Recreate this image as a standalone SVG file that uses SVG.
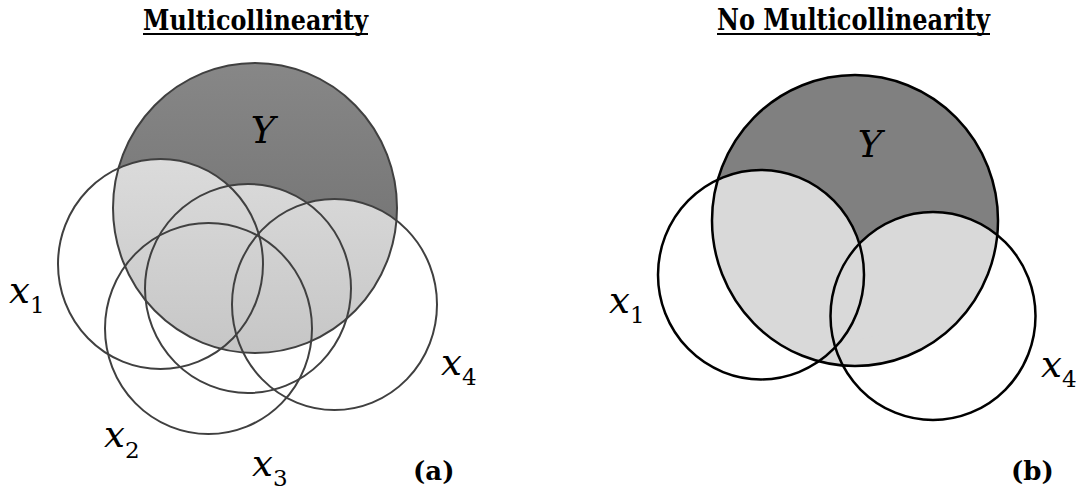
<svg xmlns="http://www.w3.org/2000/svg" width="1079" height="492" viewBox="0 0 1079 492">
<defs>
<linearGradient id="darkG" gradientUnits="userSpaceOnUse" x1="0" y1="63" x2="0" y2="353">
<stop offset="0" stop-color="#878787"/>
<stop offset="1" stop-color="#6a6a6a"/>
</linearGradient>
<linearGradient id="lightG" gradientUnits="userSpaceOnUse" x1="0" y1="150" x2="0" y2="353">
<stop offset="0" stop-color="#dcdcdc"/>
<stop offset="1" stop-color="#c6c6c6"/>
</linearGradient>
<clipPath id="clipYa"><ellipse cx="255" cy="208" rx="142" ry="145"/></clipPath>
<clipPath id="clipYb"><ellipse cx="855" cy="220.5" rx="143" ry="145.5"/></clipPath>
</defs>
<style>
text{font-family:"DejaVu Serif","Liberation Serif",serif;fill:#000}
.title{font-weight:bold}
.var{font-style:italic;font-size:37px}
.sub{font-style:normal;font-size:23px}
.tag{font-weight:bold;font-size:26px}
.ol{fill:none;stroke:#404040;stroke-width:2}
.or{fill:none;stroke:#000;stroke-width:2.5}
</style>
<rect width="1079" height="492" fill="#fff"/>

<g id="title-a">
<text class="title" font-size="28" x="255.5" y="30" text-anchor="middle" textLength="225" lengthAdjust="spacingAndGlyphs">Multicollinearity</text>
<line x1="143" y1="34" x2="368" y2="34" stroke="#000" stroke-width="2"/>
</g>
<g id="title-b">
<text class="title" font-size="29" x="853.5" y="30" text-anchor="middle" textLength="273" lengthAdjust="spacingAndGlyphs">No Multicollinearity</text>
<line x1="717" y1="34" x2="990" y2="34" stroke="#000" stroke-width="2"/>
</g>

<!-- Diagram (a) -->
<g id="a-Y">
<ellipse cx="255" cy="208" rx="142" ry="145" fill="url(#darkG)"/>
<g clip-path="url(#clipYa)" fill="url(#lightG)">
<ellipse cx="160.5" cy="264" rx="102.5" ry="105"/>
<ellipse cx="208.5" cy="328.5" rx="103.5" ry="105.5"/>
<ellipse cx="248" cy="288.5" rx="103" ry="104.5"/>
<ellipse cx="334.5" cy="304.5" rx="102.5" ry="105.5"/>
</g>
<ellipse class="ol" cx="255" cy="208" rx="142" ry="145"/>
<text class="var" x="263" y="143" text-anchor="middle" font-size="40">Y</text>
</g>
<g id="a-x1">
<ellipse class="ol" cx="160.5" cy="264" rx="102.5" ry="105"/>
<text class="var" x="9" y="303">x<tspan class="sub" dy="10">1</tspan></text>
</g>
<g id="a-x2">
<ellipse class="ol" cx="208.5" cy="328.5" rx="103.5" ry="105.5"/>
<text class="var" x="104" y="447">x<tspan class="sub" dy="11">2</tspan></text>
</g>
<g id="a-x3">
<ellipse class="ol" cx="248" cy="288.5" rx="103" ry="104.5"/>
<text class="var" x="252" y="476">x<tspan class="sub" dy="10">3</tspan></text>
</g>
<g id="a-x4">
<ellipse class="ol" cx="334.5" cy="304.5" rx="102.5" ry="105.5"/>
<text class="var" x="441" y="375">x<tspan class="sub" dy="10">4</tspan></text>
</g>
<text class="tag" x="413" y="480">(a)</text>

<!-- Diagram (b) -->
<g id="b-Y">
<ellipse cx="855" cy="220.5" rx="143" ry="145.5" fill="#808080"/>
<g clip-path="url(#clipYb)" fill="#d9d9d9">
<ellipse cx="761" cy="274.7" rx="103" ry="104.7"/>
<ellipse cx="933" cy="316" rx="102.5" ry="104"/>
<polygon points="800,345 835,345 880,335 880,380 800,380"/>
</g>
<ellipse class="or" cx="855" cy="220.5" rx="143" ry="145.5"/>
<text class="var" x="870" y="157" text-anchor="middle" font-size="40">Y</text>
</g>
<g id="b-x1">
<ellipse class="or" cx="761" cy="274.7" rx="103" ry="104.7"/>
<text class="var" x="609" y="313">x<tspan class="sub" dy="10">1</tspan></text>
</g>
<g id="b-x4">
<ellipse class="or" cx="933" cy="316" rx="102.5" ry="104"/>
<text class="var" x="1041" y="377">x<tspan class="sub" dy="10">4</tspan></text>
</g>
<text class="tag" x="1011" y="480">(b)</text>

<g id="connectors"/>
</svg>
